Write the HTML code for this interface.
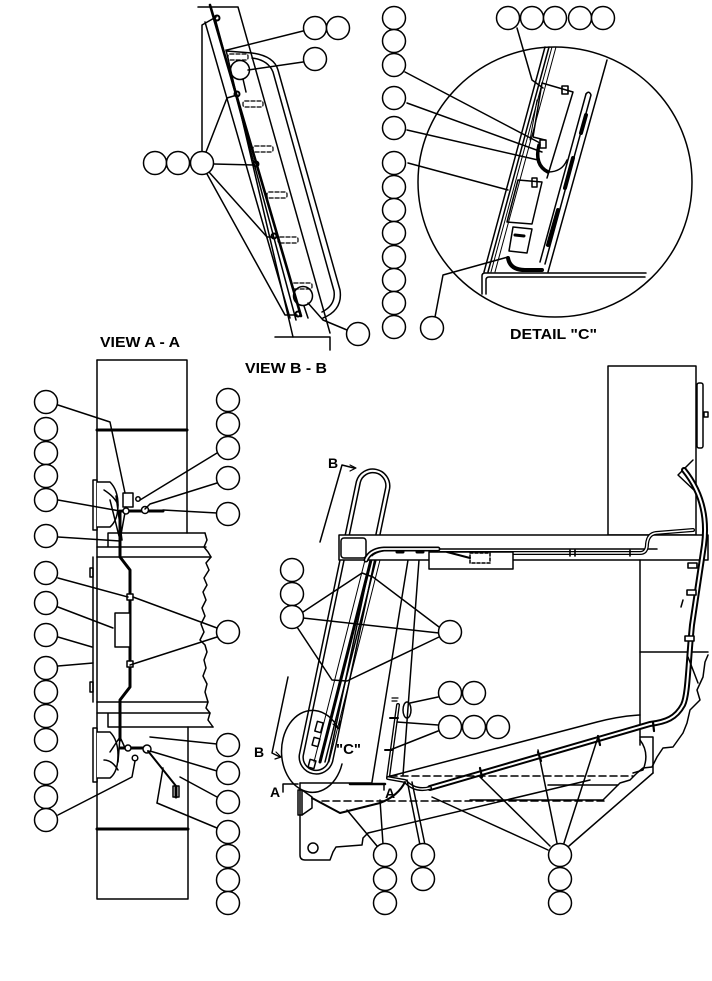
<!DOCTYPE html>
<html><head><meta charset="utf-8"><style>
html,body{margin:0;padding:0;background:#fff;}
svg{display:block;}
text{font-family:"Liberation Sans",Arial,sans-serif;font-weight:bold;fill:#000;stroke:none;}
</style></head><body>
<svg width="712" height="981" viewBox="0 0 712 981" xmlns="http://www.w3.org/2000/svg">
<rect x="0" y="0" width="712" height="981" fill="#fff"/>
<g fill="none" stroke="#000" stroke-width="1.5" stroke-linejoin="round" stroke-linecap="round">

<!-- ============ TOP-LEFT VIEW ============ -->
<path d="M198,7 H238 L330,333"/>
<path d="M275,337 H330 V350"/>
<path d="M210,5 L301,316" stroke-width="2.6"/>
<path d="M205,22 L290,318"/>
<path d="M215,18 L296,320"/>
<path d="M226,50 L293,337"/>
<path d="M226,51 L252,53 Q274,56 278,70 L340,290 Q343,310 323,318"/>
<path d="M252,58 Q268,60 273,72 L334,291 Q336,305 322,312"/>
<g stroke-dasharray="4 2" stroke-width="1.2">
<rect x="228" y="54" width="20" height="6" rx="2"/>
<rect x="243" y="101" width="20" height="6" rx="2"/>
<rect x="253" y="146" width="20" height="6" rx="2"/>
<rect x="267" y="192" width="20" height="6" rx="2"/>
<rect x="278" y="237" width="20" height="6" rx="2"/>
<rect x="292" y="283" width="20" height="6" rx="2"/>
</g>
<circle cx="240" cy="70" r="9.5"/>
<circle cx="303" cy="296" r="9.5"/>
<path d="M243,79 L246,92 M304,306 L308,318"/>
<g stroke-width="2">
<circle cx="217" cy="18" r="2.5"/>
<circle cx="237" cy="94" r="2.5"/>
<circle cx="256" cy="164" r="2.5"/>
<circle cx="274" cy="236" r="2.5"/>
<circle cx="298" cy="314" r="2.5"/>
</g>
<path d="M303,31 L227,50"/>
<path d="M303,62 L248,70"/>
<path d="M202,151 V25 L216,17"/>
<path d="M206,152 L227,98 L237,95"/>
<path d="M214,164 L254,165"/>
<path d="M209,172 L267,237 L273,237"/>
<path d="M207,174 L285,315 L297,315"/>
<path d="M347,330 L323,320 L308,303"/>

<!-- ============ DETAIL C ============ -->
<ellipse cx="555" cy="182" rx="137" ry="135"/>
<path d="M482,294 V276 Q482,273 485,273 H646"/>
<path d="M486,294 V280 Q486,277 489,277 H645"/>
<path d="M545,47 L484,272 M549,47 L488,272"/>
<path d="M552,47 L491,272 M556,47 L495,272" stroke-width="1"/>
<path d="M607,60 L548,272"/>
<path d="M542,83 L573,92 L547,178 M542,83 L533,137 L545,140"/>
<path d="M537,100 L530,140" stroke-width="1"/>
<rect x="562" y="86" width="6" height="8" stroke-width="1.6"/>
<path d="M586,94 Q589,90 591,95 L545,264"/>
<path d="M586,94 L540,262"/>
<path d="M586,115 L581,133 M573,158 L565,188 M558,210 L548,245" stroke-width="4"/>
<path d="M539,145 Q534,165 548,172" stroke-width="3.5"/>
<path d="M548,172 Q562,172 567,160"/>
<rect x="540" y="140" width="6" height="8" stroke-width="1.5"/>
<path d="M518,180 L542,182 L532,224 L507,222 Z"/>
<rect x="532" y="178" width="5" height="9" stroke-width="1.5"/>
<path d="M513,227 L532,229 L527,253 L509,251 Z"/>
<path d="M515,235 L524,236" stroke-width="3"/>
<path d="M508,258 Q510,270 525,270 H542" stroke-width="4"/>
<path d="M517,28 L532,80 L543,88"/>
<path d="M405,72 L540,143"/>
<path d="M407,103 L542,152"/>
<path d="M407,130 L538,160"/>
<path d="M408,163 L508,190"/>
<path d="M435,317 L443,275 L508,257"/>

<!-- ============ VIEW A-A (left) ============ -->
<path d="M97,360 H187 V533"/>
<path d="M97,360 V557"/>
<path d="M97,430 H187" stroke-width="3"/>
<path d="M108,533 H205 M97,547 H206 M97,557 H211 M108,533 V547"/>
<path d="M93,557 V702 M97,557 V702"/>
<rect x="90" y="568" width="3" height="9"/>
<rect x="90" y="682" width="3" height="10"/>
<polyline points="205,533 207,540 204,547 208,552 211,557 206,563 209,570 204,578 207,585 203,592 206,600 202,608 205,616 201,624 204,632 200,640 205,645 207,652 204,660 206,668 203,676 207,684 205,692 208,702 206,708 210,713 208,720 213,727"/>
<path d="M97,702 H208 M97,713 H210 M108,713 V727 H213"/>
<path d="M97,702 V899 H188 V727"/>
<path d="M97,829 H188" stroke-width="3"/>
<path d="M93,480 H97 V530 H93 Z" fill="#fff"/>
<path d="M97,482 H110 Q118,490 118,505 Q118,520 110,527 H97" fill="#fff"/>
<rect x="123" y="493" width="10" height="14" fill="#fff"/>
<path d="M110,500 L120,540 M126,507 L120,540 M116,496 L122,540 M104,490 Q115,497 118,505"/>
<path d="M120,511 V557 L130,570 V687 L120,700 V740" stroke-width="3"/>
<path d="M122,511 H163" stroke-width="3"/>
<circle cx="145" cy="510" r="3.5" fill="#fff"/>
<circle cx="126" cy="511" r="3" fill="#fff"/>
<circle cx="138" cy="499" r="2.2"/>
<rect x="127" y="594" width="6" height="6" fill="#fff"/>
<rect x="127" y="661" width="6" height="6" fill="#fff"/>
<rect x="115" y="613" width="15" height="34" fill="#fff"/>
<path d="M93,728 H97 V782 H93 Z" fill="#fff"/>
<path d="M97,732 H110 Q118,740 118,755 Q118,772 110,778 H97" fill="#fff"/>
<path d="M120,737 L110,752 M120,737 L118,762 M120,737 L126,750 M104,760 Q112,760 118,770"/>
<path d="M120,748 H147" stroke-width="3"/>
<circle cx="147" cy="749" r="4" fill="#fff"/>
<circle cx="128" cy="748" r="3" fill="#fff"/>
<path d="M148,751 L176,786" stroke-width="2"/>
<path d="M163,768 L157,803"/>
<rect x="173" y="786" width="6" height="11"/>
<path d="M176,787 V797" stroke-width="3"/>
<circle cx="135" cy="758" r="2.8"/>
<path d="M58,405 L110,422 L125,493"/>
<path d="M58,500 L120,511"/>
<path d="M58,537 L120,541"/>
<path d="M58,578 L128,597"/>
<path d="M58,607 L113,628"/>
<path d="M58,637 L92,647"/>
<path d="M58,666 L93,663"/>
<path d="M58,815 L132,777 L135,761"/>
<path d="M217,453 L140,500"/>
<path d="M217,483 L150,504 L145,509"/>
<path d="M217,513 L163,510"/>
<path d="M217,628 L133,597"/>
<path d="M217,637 L130,665"/>
<path d="M217,744 L150,737"/>
<path d="M217,771 L150,751"/>
<path d="M217,797 L180,777"/>
<path d="M217,828 L157,803"/>

<!-- ============ RIGHT VIEW ============ -->
<path d="M356.4,481.5 A17,17 0 0 1 389.6,488.5 L332.6,761.5 A17,17 0 0 1 299.4,754.5 Z"/>
<path d="M360.3,482.3 A13,13 0 0 1 385.7,487.7 L328.7,760.7 A13,13 0 0 1 303.3,755.3 Z"/>
<path d="M366,556 L314,762" stroke-width="1"/>
<path d="M372,556 L320,762" stroke-width="3"/>
<path d="M377,556 L325,762"/>
<path d="M381,556 L329,762" stroke-width="1"/>
<path d="M408,560 L372,782"/>
<path d="M419,560 L403,775"/>
<rect x="608" y="366" width="88" height="169" fill="#fff"/>
<rect x="697" y="383" width="6" height="65" rx="2"/>
<rect x="704" y="412" width="4" height="5"/>
<polyline points="693,460 678,475 696,492"/>
<rect x="339" y="535" width="369" height="25" fill="#fff"/>
<rect x="341" y="538" width="25" height="20" rx="3"/>
<path d="M380,549 H657"/>
<path d="M366,560 Q370,550 384,549 H438" stroke="#000" stroke-width="5"/>
<path d="M366,560 Q370,550 384,549 H438" stroke="#fff" stroke-width="1.8"/>
<path d="M372,556 Q376,552 384,551" stroke-width="1"/>
<path d="M397,552 H403 M417,552 H423" stroke-width="3"/>
<path d="M440,553 H640 Q647,553 647,544 Q648,534 656,533 L693,530" stroke-width="4"/>
<path d="M440,553 H640 Q647,553 647,544 Q648,534 656,533 L693,530" stroke="#fff" stroke-width="1.5"/>
<path d="M570,550 V556 M575,550 V556 M630,550 V556" stroke-width="1.6"/>
<rect x="429" y="552" width="84" height="17" fill="#fff"/>
<rect x="470" y="553" width="20" height="10" stroke-dasharray="3 2"/>
<path d="M447,552 L470,558" stroke-width="2"/>
<path d="M640,560 V745"/>
<path d="M640,652 H708"/>
<path d="M640,737 H653 V773"/>
<path d="M640,740 Q650,753 643,770 L633,773"/>
<path d="M684,470 C700,490 708,515 704,545 L692,625 C688,665 688,695 683,705 C676,718 666,722 650,724 L430,788" stroke-width="6"/>
<path d="M684,470 C700,490 708,515 704,545 L692,625 C688,665 688,695 683,705 C676,718 666,722 650,724 L430,788" stroke="#fff" stroke-width="2"/>
<path d="M430,788 Q415,792 405,781 L388,778 L398,705" stroke-width="4"/>
<path d="M430,788 Q415,792 405,781 L388,778 L398,705" stroke="#fff" stroke-width="1.3"/>
<path d="M387,777 L597,722 Q620,716 640,715"/>
<path d="M688,657 L698,683"/>
<path d="M683,600 L681,607"/>
<g stroke-width="1.6" fill="#fff">
<rect x="688" y="563" width="9" height="5"/>
<rect x="687" y="590" width="9" height="5"/>
<rect x="685" y="636" width="9" height="5"/>
</g>
<path d="M480,768 L482,777 M538,752 L541,761 M598,736 L600,745 M653,722 L654,731" stroke-width="2.2"/>
<polyline points="708,655 705,662 703,677 697,690 700,700 690,710 687,723 683,733 673,747 663,748 657,757 652,767 643,768 637,773 630,780 620,783 610,793 603,800"/>
<path d="M390,776 H633" stroke-dasharray="7 4"/>
<path d="M322,801 H605" stroke-dasharray="7 4"/>
<path d="M548,785 H618"/>
<path d="M470,800 H603"/>
<path d="M368,833 L590,780"/>
<path d="M300,783 H372"/>
<path d="M300,783 V855 Q300,860 305,860 H330 L333,852 L336,847 L362,845 L363,838 L368,833"/>
<circle cx="313" cy="848" r="5"/>
<path d="M298,790 H302 V815 H298 Z"/>
<path d="M302,790 L312,797 L312,808 L302,815"/>
<path d="M312,798 Q325,805 340,813 L380,803 Q398,796 405,782" stroke-width="2"/>
<path d="M283,792 V784 H298"/>
<path d="M350,784 H385" stroke-width="2.5"/>
<path d="M384,784 V790"/>
<path d="M320,542 L342,465 L354,468"/>
<path d="M350,465 L356,468 L350,471" stroke-width="1.2"/>
<path d="M288,677 L272,753 L280,757"/>
<path d="M276,752 L281,757 L275,759" stroke-width="1.2"/>
<path d="M338,728 A31,41 0 1 0 342,764"/>
<path d="M333,724 L339,729 L340,721" stroke-width="1.2"/>
<rect x="316" y="722" width="6" height="10" transform="rotate(15 319 727)"/>
<rect x="313" y="738" width="6" height="8" transform="rotate(15 316 742)"/>
<rect x="309" y="760" width="6" height="8" transform="rotate(15 312 764)"/>
<path d="M392,698 H398 M392,701 H397" stroke-width="1.2"/>
<ellipse cx="407" cy="710" rx="4" ry="8"/>
<path d="M390,718 H398 M385,750 H392" stroke-width="2"/>
<path d="M303,612 L362,573 L373,577 L439,627"/>
<path d="M303,618 L439,633"/>
<path d="M297,627 L332,680 L347,681 L439,637"/>
<path d="M438,697 L410,703"/>
<path d="M438,725 L397,722"/>
<path d="M438,731 L390,750"/>
<path d="M377,846 L347,810"/>
<path d="M383,844 L380,800"/>
<path d="M420,845 L407,780"/>
<path d="M425,845 L412,782"/>
<path d="M548,850 L432,797"/>
<path d="M550,846 L480,777"/>
<path d="M557,843 L538,750"/>
<path d="M564,843 L598,737"/>
<path d="M569,846 L653,773"/>

<!-- ============ CIRCLES ============ -->
<g fill="#fff">
<circle cx="315" cy="28" r="11.5"/><circle cx="338" cy="28" r="11.5"/>
<circle cx="315" cy="59" r="11.5"/>
<circle cx="155" cy="163" r="11.5"/><circle cx="178" cy="163" r="11.5"/><circle cx="202" cy="163" r="11.5"/>
<circle cx="358" cy="334" r="11.5"/>

<circle cx="394" cy="18" r="11.5"/><circle cx="394" cy="41" r="11.5"/><circle cx="394" cy="65" r="11.5"/>
<circle cx="394" cy="98" r="11.5"/><circle cx="394" cy="128" r="11.5"/><circle cx="394" cy="163" r="11.5"/>
<circle cx="394" cy="187" r="11.5"/><circle cx="394" cy="210" r="11.5"/><circle cx="394" cy="233" r="11.5"/>
<circle cx="394" cy="257" r="11.5"/><circle cx="394" cy="280" r="11.5"/><circle cx="394" cy="303" r="11.5"/>
<circle cx="394" cy="327" r="11.5"/>
<circle cx="508" cy="18" r="11.5"/><circle cx="532" cy="18" r="11.5"/><circle cx="555" cy="18" r="11.5"/>
<circle cx="580" cy="18" r="11.5"/><circle cx="603" cy="18" r="11.5"/>
<circle cx="432" cy="328" r="11.5"/>

<circle cx="46" cy="402" r="11.5"/><circle cx="46" cy="429" r="11.5"/><circle cx="46" cy="453" r="11.5"/>
<circle cx="46" cy="476" r="11.5"/><circle cx="46" cy="500" r="11.5"/><circle cx="46" cy="536" r="11.5"/>
<circle cx="46" cy="573" r="11.5"/><circle cx="46" cy="603" r="11.5"/><circle cx="46" cy="635" r="11.5"/>
<circle cx="46" cy="668" r="11.5"/><circle cx="46" cy="692" r="11.5"/><circle cx="46" cy="716" r="11.5"/>
<circle cx="46" cy="740" r="11.5"/><circle cx="46" cy="773" r="11.5"/><circle cx="46" cy="797" r="11.5"/>
<circle cx="46" cy="820" r="11.5"/>
<circle cx="228" cy="400" r="11.5"/><circle cx="228" cy="424" r="11.5"/><circle cx="228" cy="448" r="11.5"/>
<circle cx="228" cy="478" r="11.5"/><circle cx="228" cy="514" r="11.5"/><circle cx="228" cy="632" r="11.5"/>
<circle cx="228" cy="745" r="11.5"/><circle cx="228" cy="773" r="11.5"/><circle cx="228" cy="802" r="11.5"/>
<circle cx="228" cy="832" r="11.5"/><circle cx="228" cy="856" r="11.5"/><circle cx="228" cy="880" r="11.5"/>
<circle cx="228" cy="903" r="11.5"/>

<circle cx="292" cy="570" r="11.5"/><circle cx="292" cy="594" r="11.5"/><circle cx="292" cy="617" r="11.5"/>
<circle cx="450" cy="632" r="11.5"/>
<circle cx="450" cy="693" r="11.5"/><circle cx="474" cy="693" r="11.5"/>
<circle cx="450" cy="727" r="11.5"/><circle cx="474" cy="727" r="11.5"/><circle cx="498" cy="727" r="11.5"/>
<circle cx="385" cy="855" r="11.5"/><circle cx="385" cy="879" r="11.5"/><circle cx="385" cy="903" r="11.5"/>
<circle cx="423" cy="855" r="11.5"/><circle cx="423" cy="879" r="11.5"/>
<circle cx="560" cy="855" r="11.5"/><circle cx="560" cy="879" r="11.5"/><circle cx="560" cy="903" r="11.5"/>
</g>
</g>

<text x="100" y="347" font-size="15" textLength="80" lengthAdjust="spacingAndGlyphs">VIEW A - A</text>
<text x="245" y="373" font-size="15" textLength="82" lengthAdjust="spacingAndGlyphs">VIEW B - B</text>
<text x="510" y="339" font-size="15" textLength="87" lengthAdjust="spacingAndGlyphs">DETAIL "C"</text>
<text x="328" y="468" font-size="14">B</text>
<text x="254" y="757" font-size="14">B</text>
<text x="336" y="754" font-size="15" textLength="25" lengthAdjust="spacingAndGlyphs">"C"</text>
<text x="270" y="797" font-size="14">A</text>
<text x="385" y="798" font-size="14">A</text>
</svg>
</body></html>
